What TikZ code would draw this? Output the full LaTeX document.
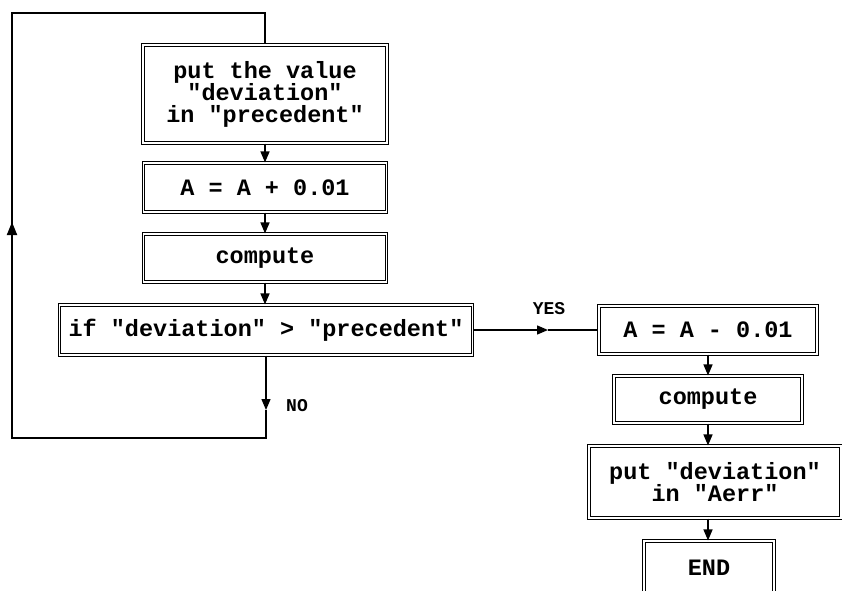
\documentclass[tikz,border=0pt]{standalone}
\usepackage{fontspec}
\newfontfamily\cour{Liberation Mono}
\usetikzlibrary{arrows.meta}
\begin{document}
\begin{tikzpicture}[x=1pt,y=-1pt,
  box/.style={draw, double, double distance=1.3pt, line width=1.1pt, inner sep=0pt, align=center,
    font=\cour\bfseries\fontsize{23.5}{22}\selectfont},
  conn/.style={line width=1.4pt, -{Triangle[length=11pt,width=9pt]}},
  plain/.style={line width=1.4pt},
  loop/.style={line width=1.9pt},
  lab/.style={font=\cour\bfseries\fontsize{18}{18}\selectfont, inner sep=0pt}]
\clip (0,0) rectangle (842,590);
\useasboundingbox (0,0) rectangle (842,590);
\node[box, minimum width=244pt, minimum height=98pt] (b1) at (265,94) {put the value\\"deviation"\\in "precedent"};
\node[box, minimum width=243pt, minimum height=49pt] (b2) at (265,187.5) {A = A + 0.01};
\node[box, minimum width=243pt, minimum height=48pt] (b3) at (265,258) {compute};
\node[box, minimum width=413pt, minimum height=50pt] (b4) at (266,330) {if "deviation" > "precedent"};
\node[box, minimum width=218pt, minimum height=48pt] (b5) at (708,330) {A = A - 0.01};
\node[box, minimum width=188pt, minimum height=47pt] (b6) at (708,399.5) {compute};
\node[box, minimum width=252pt, minimum height=72pt] (b7) at (715,482) {put "deviation"\\in "Aerr"};
\node[box, minimum width=130pt, minimum height=54pt] (b8) at (709,568) {END};
\coordinate (tr) at (265,13);
\coordinate (tl) at (12,13);
\coordinate (bl) at (12,438);
\coordinate (br) at (266,438);
\coordinate (up) at (12,222);
\coordinate (no) at (266,410);
\coordinate (yesm) at (548,330);
\draw[conn] (b1.south) -- (b2.north);
\draw[conn] (b2.south) -- (b3.north);
\draw[conn] (b3.south) -- (b3.south |- b4.north);
\draw[conn] (b4.south) -- (no);
\draw[loop] (no) -- (br) -- (bl) -- (up);
\draw[loop,-{Triangle[length=13pt,width=10pt]}] (bl) -- (up);
\draw[loop] (up) -- (tl) -- (tr) -- (b1.north);
\draw[conn] (b4.east) -- (yesm);
\draw[plain] (yesm) -- (b5.west);
\draw[conn] (b5.south) -- (b6.north);
\draw[conn] (b6.south) -- (b6.south |- b7.north);
\draw[conn] (b6.south |- b7.south) -- (b6.south |- b8.north);
\node[lab] (yes) at (549,309) {YES};
\node[lab] (nol) at (297,406) {NO};
\end{tikzpicture}
\end{document}
